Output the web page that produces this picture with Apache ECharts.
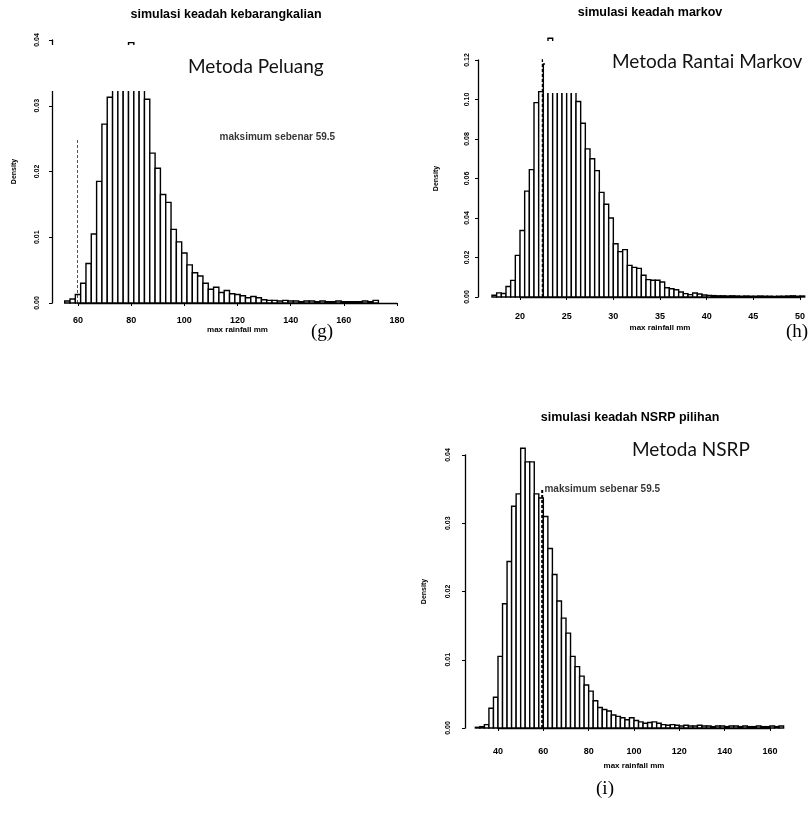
<!DOCTYPE html>
<html>
<head>
<meta charset="utf-8">
<title>simulasi keadah</title>
<script src="https://cdn.jsdelivr.net/npm/echarts@6/dist/echarts.min.js"></script>
<style>
  html,body{margin:0;padding:0;background:#fff;}
  #main{width:810px;height:814px;}
</style>
</head>
<body>
<div id="main"></div>
<script>
// (g) Metoda Peluang - bins of 2 mm starting at 55
var gStart = 55, gWidth = 2;
var gDensity = [0.0003,0.0006,0.0013,0.0030,0.0060,0.0105,0.0185,0.0272,0.0313,
  0.0345,0.0370,0.0385,0.0396,0.0380,0.0350,
  0.0310,0.0228,0.0205,0.0165,0.0153,0.0112,0.0093,0.0076,0.0058,0.0046,
  0.0041,0.0030,0.0021,0.0024,0.0016,0.0019,0.0014,0.0013,0.0011,0.0008,0.0010,0.0008,
  0.0005,0.0004,0.0004,0.0003,0.0004,0.0003,0.0003,0.0002,0.0003,0.0003,0.0002,0.0003,
  0.0002,0.0002,0.0003,0.0002,0.0002,0.0002,0.0002,0.0003,0.0002,0.0004];
var gTicksX = [60, 180, 20];      // min, max, interval
var gTicksY = [0, 0.04, 0.01];
var gMaxLine = [59.5, 0.025];     // maksimum sebenar
var gNote = [135, 0.0252];

// (h) Metoda Rantai Markov - bins of 0.5 starting at 17
var hStart = 17, hWidth = 0.5;
var hDensity = [0.0009,0.0021,0.0018,0.0053,0.0084,0.0211,0.0337,0.0536,0.0645,0.0984,0.1040,
  0.1180,0.1310,0.1240,0.1210,0.1190,0.1150,0.1100,
  0.0990,0.0880,0.0750,0.0700,0.0640,0.0530,0.0470,0.0400,0.0270,0.0230,0.0240,0.0160,
  0.0150,0.0145,0.0110,0.0088,0.0085,0.0085,0.0076,0.0047,0.0042,0.0037,0.0025,0.0017,
  0.0012,0.0020,0.0015,0.0010,
  0.0008,0.0007,0.0006,0.0006,0.0005,0.0006,0.0005,0.0004,0.0005,0.0004,0.0004,0.0005,
  0.0004,0.0004,0.0003,0.0004,0.0004,0.0005,0.0006,0.0004,0.0005];
var hTicksX = [20, 50, 5];
var hTicksY = [0, 0.12, 0.02];
var hMaxLine = [22.4, 0.122];

// (i) Metoda NSRP - bins of 2 starting at 30
var iStart = 30, iWidth = 2;
var iDensity = [0.0001,0.0002,0.0005,0.0029,0.0045,0.0105,0.0182,0.0244,0.0325,0.0343,
  0.0410,0.0390,0.0390,0.0343,0.0337,0.0310,0.0263,0.0225,0.0186,0.0161,0.0139,0.0105,
  0.0090,0.0076,0.0063,0.0054,0.0040,0.0030,0.0027,0.0025,0.0019,0.0017,0.0015,0.0012,
  0.0015,0.0011,0.0009,0.0007,0.0008,0.0009,0.0007,
  0.0005,0.0004,0.0005,0.0004,0.0003,0.0004,0.0003,0.0003,0.0004,0.0003,0.0003,0.0002,
  0.0003,0.0003,0.0002,0.0003,0.0003,0.0002,0.0003,0.0002,0.0002,0.0003,0.0002,0.0002,
  0.0003,0.0002,0.0003];
var iTicksX = [40, 160, 20];
var iTicksY = [0, 0.04, 0.01];
var iMaxLine = [59.5, 0.035];
var iNote = [60.5, 0.035];

var noteText = 'maksimum sebenar 59.5';
var rFont = 'Liberation Sans';

function bins(start, width, vals) {
  return vals.map(function (v, i) {
    return [start + i * width, start + (i + 1) * width, v];
  });
}

function renderBar(params, api) {
  var p0 = api.coord([api.value(0), api.value(2)]);
  var p1 = api.coord([api.value(1), 0]);
  return {
    type: 'rect',
    shape: {x: p0[0], y: p0[1], width: p1[0] - p0[0], height: p1[1] - p0[1]},
    style: {fill: '#fff', stroke: '#000', lineWidth: 1.4}
  };
}

function xAxisOf(grid, t, offset, margin, gap) {
  return {
    type: 'value', gridIndex: grid, min: t[0], max: t[1], interval: t[2], offset: offset,
    splitLine: {show: false},
    axisLine: {lineStyle: {color: '#000', width: 1.3}},
    axisTick: {length: 3, lineStyle: {color: '#000'}},
    axisLabel: {margin: margin, color: '#000', fontSize: 9, fontWeight: 'bold', fontFamily: rFont},
    name: 'max rainfall mm', nameLocation: 'middle', nameGap: gap,
    nameTextStyle: {color: '#000', fontSize: 8, fontWeight: 'bold', fontFamily: rFont}
  };
}

function yAxisOf(grid, t, offset, margin, gap) {
  return {
    type: 'value', gridIndex: grid, min: t[0], max: t[1], interval: t[2], offset: offset,
    splitLine: {show: false},
    axisLine: {show: true, lineStyle: {color: '#000', width: 1.3}},
    axisTick: {show: true, length: 3, lineStyle: {color: '#000'}},
    axisLabel: {margin: margin, rotate: 90, color: '#000', fontSize: 7, fontWeight: 'bold', fontFamily: rFont,
      formatter: function (v) { return v.toFixed(2); }},
    name: 'Density', nameLocation: 'middle', nameGap: gap,
    nameTextStyle: {color: '#000', fontSize: 7, fontWeight: 'bold', fontFamily: rFont}
  };
}

function maxLine(idx, m, width) {
  return {
    type: 'line', xAxisIndex: idx, yAxisIndex: idx, symbol: 'none', silent: true,
    data: [[m[0], 0], [m[0], m[1]]],
    lineStyle: {color: '#000', width: width, type: [3, 2], opacity: 1}, z: 3
  };
}

function note(idx, p, pos) {
  return {
    type: 'scatter', xAxisIndex: idx, yAxisIndex: idx, symbolSize: 0, silent: true,
    data: [p],
    label: {show: true, position: pos, distance: 0, formatter: noteText,
      color: '#000', fontSize: 10, fontWeight: 'bold', fontFamily: rFont}
  };
}

function heading(text, x, y) {
  return {type: 'text', x: x, y: y, z: 100,
    style: {text: text, align: 'center', verticalAlign: 'middle', fill: '#000',
      font: 'bold 12.5px "Liberation Sans"'}};
}

function metoda(text, x, y) {
  return {type: 'text', x: x, y: y, z: 102,
    style: {text: text, align: 'left', verticalAlign: 'middle', fill: '#111',
      font: '19px Lato'}};
}

function panel(text, x, y) {
  return {type: 'text', x: x, y: y, z: 100,
    style: {text: text, align: 'center', verticalAlign: 'middle', fill: '#000',
      font: '19px "Liberation Serif"'}};
}

var chart = echarts.init(document.getElementById('main'));
var option = {
  backgroundColor: '#fff',
  animation: false,
  grid: [
    {left: 78, top: 40, width: 319, height: 263, outerBoundsMode: 'none'},
    {left: 520, top: 60, width: 280, height: 237, outerBoundsMode: 'none'},
    {left: 498, top: 455, width: 272, height: 273, outerBoundsMode: 'none'}
  ],
  xAxis: [
    xAxisOf(0, gTicksX, 5, 8, 16),
    xAxisOf(1, hTicksX, 8, 7, 19),
    xAxisOf(2, iTicksX, 12, 7, 22)
  ],
  yAxis: [
    yAxisOf(0, gTicksY, 26, 11, 34),
    yAxisOf(1, hTicksY, 42, 7, 38),
    yAxisOf(2, iTicksY, 33, 13, 37)
  ],
  series: [
    {type: 'custom', xAxisIndex: 0, yAxisIndex: 0, renderItem: renderBar,
      encode: {x: [0, 1], y: 2}, data: bins(gStart, gWidth, gDensity)},
    maxLine(0, gMaxLine, 2),
    note(0, gNote, 'inside'),
    {type: 'custom', xAxisIndex: 1, yAxisIndex: 1, renderItem: renderBar,
      encode: {x: [0, 1], y: 2}, data: bins(hStart, hWidth, hDensity)},
    maxLine(1, hMaxLine, 1.3),
    {type: 'custom', xAxisIndex: 2, yAxisIndex: 2, renderItem: renderBar,
      encode: {x: [0, 1], y: 2}, data: bins(iStart, iWidth, iDensity)},
    maxLine(2, iMaxLine, 2),
    note(2, iNote, 'right')
  ],
  graphic: [
    // text boxes pasted over the plots
    {type: 'rect', z: 101, shape: {x: 45, y: 45, width: 355, height: 46}, style: {fill: '#fff'}},
    {type: 'rect', z: 101, shape: {x: 545, y: 41, width: 265, height: 52}, style: {fill: '#fff'}},
    metoda('Metoda Peluang', 188, 67),
    metoda('Metoda Rantai Markov', 612, 62),
    metoda('Metoda NSRP', 632, 450),
    heading('simulasi keadah kebarangkalian', 226, 15),
    heading('simulasi keadah markov', 650, 13),
    heading('simulasi keadah NSRP pilihan', 630, 418),
    panel('(g)', 322, 332),
    panel('(h)', 797, 332),
    panel('(i)', 605, 789)
  ]
};
chart.setOption(option);
</script>
</body>
</html>
